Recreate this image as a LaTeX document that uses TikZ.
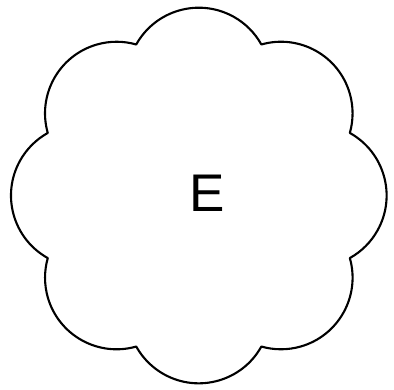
\documentclass[tikz,border=0pt]{standalone}
\usepackage{fontspec}
\setmainfont{Liberation Sans}
\usetikzlibrary{calc}
\begin{document}
\begin{tikzpicture}[x=1pt,y=1pt,
  cloudline/.style={draw=black,line width=2.1pt,line join=round},
  label/.style={inner sep=0pt,font=\fontsize{53}{53}\selectfont}]
\useasboundingbox[fill=white] (0,0) rectangle (394,390);
\coordinate (c) at (199,194);
\coordinate (s) at ($(c)+(112.5:164)$);
\draw[cloudline] (s)
  \foreach \i in {0,...,7} { arc[start angle={150.9-45*\i}, end angle={29.1-45*\i}, radius=71.6] } -- cycle;
\node[label] (E) at (207,197) {E};
\end{tikzpicture}
\end{document}
